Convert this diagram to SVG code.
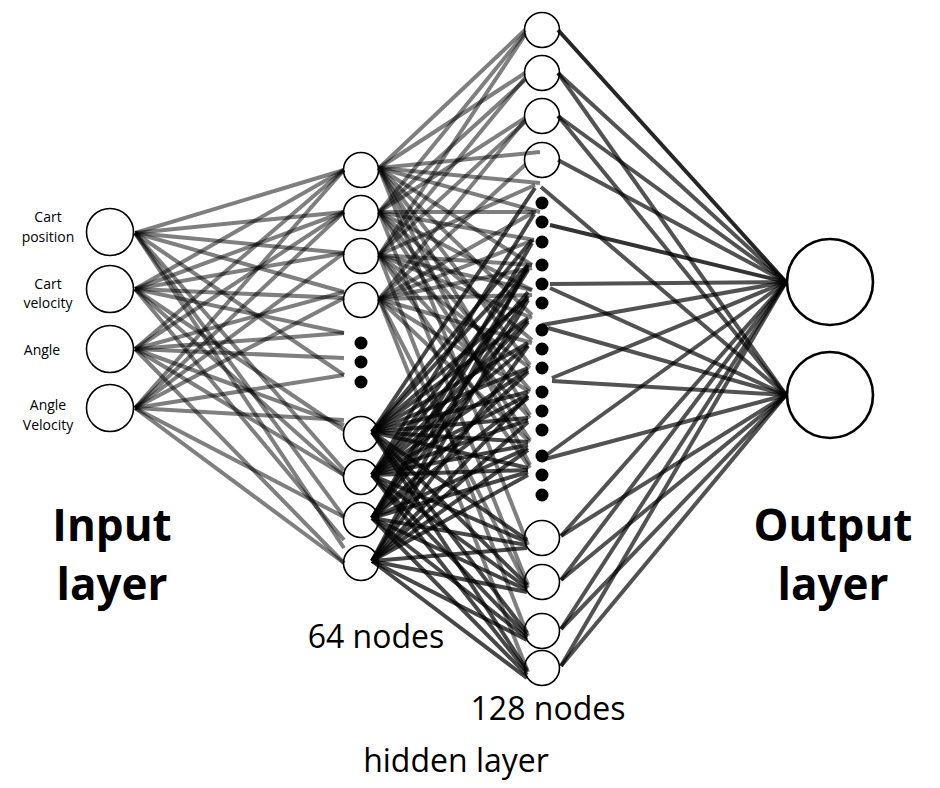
<svg xmlns="http://www.w3.org/2000/svg" width="940" height="788" viewBox="0 0 940 788">
  <style>
    .bg { fill: #ffffff; }
    .node { fill: #ffffff; stroke: #000000; stroke-width: 1.6; }
    .out { fill: #ffffff; stroke: #000000; stroke-width: 2.6; }
    .dot { fill: #000000; }
    .w-in { stroke: #000000; stroke-opacity: 0.5; stroke-width: 4; stroke-linecap: butt; }
    .w-hu { stroke: #000000; stroke-opacity: 0.5; stroke-width: 4; }
    .w-hl { stroke: #000000; stroke-opacity: 0.72; stroke-width: 4; }
    .w-out { stroke: #000000; stroke-opacity: 0.68; stroke-width: 4; }
    .small { font-family: "Open Sans", "Liberation Sans", sans-serif; font-size: 14px; fill: #000; text-anchor: middle; }
    .title { font-family: "Open Sans", "Liberation Sans", sans-serif; font-size: 44px; font-weight: 700; fill: #000; text-anchor: middle; }
    .count { font-family: "Open Sans", "Liberation Sans", sans-serif; font-size: 32px; fill: #000; text-anchor: middle; }
  </style>

  <rect class="bg" x="0" y="0" width="940" height="788"/>

  <!-- input layer -->
  <g id="input-cart-position">
    <circle class="node" cx="110" cy="232" r="23.5"/>
    <text class="small" x="48" y="222">Cart</text>
    <text class="small" x="48" y="242">position</text>
  </g>
  <g id="input-cart-velocity">
    <circle class="node" cx="110" cy="289" r="23.5"/>
    <text class="small" x="48" y="289">Cart</text>
    <text class="small" x="48" y="308">velocity</text>
  </g>
  <g id="input-angle">
    <circle class="node" cx="110" cy="349" r="23.5"/>
    <text class="small" x="42" y="355">Angle</text>
  </g>
  <g id="input-angle-velocity">
    <circle class="node" cx="110" cy="408" r="23.5"/>
    <text class="small" x="48" y="410">Angle</text>
    <text class="small" x="48" y="430">Velocity</text>
  </g>

  <!-- first hidden layer (64 nodes) -->
  <g id="h1-1"><circle class="node" cx="361" cy="170" r="17.5"/></g>
  <g id="h1-2"><circle class="node" cx="361" cy="213" r="17.5"/></g>
  <g id="h1-3"><circle class="node" cx="361" cy="256" r="17.5"/></g>
  <g id="h1-4"><circle class="node" cx="361" cy="300" r="17.5"/></g>
  <g id="h1-5"><circle class="node" cx="361" cy="434" r="17.5"/></g>
  <g id="h1-6"><circle class="node" cx="361" cy="477" r="17.5"/></g>
  <g id="h1-7"><circle class="node" cx="361" cy="520" r="17.5"/></g>
  <g id="h1-8"><circle class="node" cx="361" cy="563" r="17.5"/></g>

  <!-- second hidden layer (128 nodes) -->
  <g id="h2-1"><circle class="node" cx="542" cy="30" r="17.5"/></g>
  <g id="h2-2"><circle class="node" cx="542" cy="73" r="17.5"/></g>
  <g id="h2-3"><circle class="node" cx="542" cy="116" r="17.5"/></g>
  <g id="h2-4"><circle class="node" cx="542" cy="160" r="17.5"/></g>
  <g id="h2-5"><circle class="node" cx="542" cy="538" r="17.5"/></g>
  <g id="h2-6"><circle class="node" cx="542" cy="582" r="17.5"/></g>
  <g id="h2-7"><circle class="node" cx="542" cy="631" r="17.5"/></g>
  <g id="h2-8"><circle class="node" cx="542" cy="668" r="17.5"/></g>

  <!-- output layer -->
  <g id="output-1"><circle class="out" cx="830" cy="282" r="43"/></g>
  <g id="output-2"><circle class="out" cx="830" cy="395" r="43"/></g>

  <!-- weights -->
  <g id="connectors">
    <!-- input -> hidden 1 -->
    <g class="w-in">
      <line x1="135" y1="233" x2="344" y2="170"/>
      <line x1="135" y1="233" x2="344" y2="212"/>
      <line x1="135" y1="233" x2="344" y2="253"/>
      <line x1="135" y1="233" x2="344" y2="292"/>
      <line x1="135" y1="233" x2="344" y2="375"/>
      <line x1="135" y1="233" x2="344" y2="470"/>
      <line x1="135" y1="233" x2="344" y2="517"/>
      <line x1="135" y1="233" x2="344" y2="548"/>
      <line x1="135" y1="289" x2="344" y2="170"/>
      <line x1="135" y1="289" x2="344" y2="212"/>
      <line x1="135" y1="289" x2="344" y2="253"/>
      <line x1="135" y1="289" x2="344" y2="298"/>
      <line x1="135" y1="289" x2="344" y2="333"/>
      <line x1="135" y1="289" x2="344" y2="430"/>
      <line x1="135" y1="289" x2="344" y2="475"/>
      <line x1="135" y1="289" x2="344" y2="540"/>
      <line x1="135" y1="349" x2="344" y2="170"/>
      <line x1="135" y1="349" x2="344" y2="212"/>
      <line x1="135" y1="349" x2="344" y2="292"/>
      <line x1="135" y1="349" x2="344" y2="333"/>
      <line x1="135" y1="349" x2="344" y2="358"/>
      <line x1="135" y1="349" x2="344" y2="425"/>
      <line x1="135" y1="349" x2="344" y2="475"/>
      <line x1="135" y1="349" x2="344" y2="563"/>
      <line x1="135" y1="408" x2="344" y2="170"/>
      <line x1="135" y1="408" x2="344" y2="212"/>
      <line x1="135" y1="408" x2="344" y2="253"/>
      <line x1="135" y1="408" x2="344" y2="298"/>
      <line x1="135" y1="408" x2="344" y2="375"/>
      <line x1="135" y1="408" x2="344" y2="420"/>
      <line x1="135" y1="408" x2="344" y2="517"/>
      <line x1="135" y1="408" x2="344" y2="563"/>
    </g>

    <!-- hidden 1 (upper) -> hidden 2 -->
    <g class="w-hu">
      <line x1="379" y1="168" x2="525" y2="30"/>
      <line x1="379" y1="168" x2="525" y2="73"/>
      <line x1="379" y1="168" x2="540" y2="152"/>
      <line x1="379" y1="168" x2="540" y2="183"/>
      <line x1="379" y1="168" x2="540" y2="212"/>
      <line x1="379" y1="168" x2="532" y2="265"/>
      <line x1="379" y1="168" x2="532" y2="315"/>
      <line x1="379" y1="168" x2="530" y2="365"/>
      <line x1="379" y1="168" x2="530" y2="415"/>
      <line x1="379" y1="168" x2="530" y2="465"/>
      <line x1="379" y1="168" x2="528" y2="545"/>
      <line x1="379" y1="212" x2="525" y2="33"/>
      <line x1="379" y1="212" x2="525" y2="80"/>
      <line x1="379" y1="212" x2="525" y2="118"/>
      <line x1="379" y1="212" x2="536" y2="212"/>
      <line x1="379" y1="212" x2="534" y2="240"/>
      <line x1="379" y1="212" x2="532" y2="290"/>
      <line x1="379" y1="212" x2="532" y2="340"/>
      <line x1="379" y1="212" x2="530" y2="390"/>
      <line x1="379" y1="212" x2="530" y2="440"/>
      <line x1="379" y1="212" x2="528" y2="585"/>
      <line x1="379" y1="255" x2="525" y2="35"/>
      <line x1="379" y1="255" x2="525" y2="78"/>
      <line x1="379" y1="255" x2="525" y2="122"/>
      <line x1="379" y1="255" x2="535" y2="185"/>
      <line x1="379" y1="255" x2="532" y2="265"/>
      <line x1="379" y1="255" x2="532" y2="290"/>
      <line x1="379" y1="255" x2="532" y2="318"/>
      <line x1="379" y1="255" x2="530" y2="368"/>
      <line x1="379" y1="255" x2="530" y2="418"/>
      <line x1="379" y1="255" x2="530" y2="468"/>
      <line x1="379" y1="255" x2="528" y2="636"/>
      <line x1="379" y1="299" x2="525" y2="120"/>
      <line x1="379" y1="299" x2="525" y2="165"/>
      <line x1="379" y1="299" x2="534" y2="212"/>
      <line x1="379" y1="299" x2="534" y2="240"/>
      <line x1="379" y1="299" x2="532" y2="268"/>
      <line x1="379" y1="299" x2="532" y2="295"/>
      <line x1="379" y1="299" x2="532" y2="343"/>
      <line x1="379" y1="299" x2="530" y2="392"/>
      <line x1="379" y1="299" x2="530" y2="442"/>
      <line x1="379" y1="299" x2="528" y2="588"/>
      <line x1="379" y1="299" x2="528" y2="672"/>
    </g>

    <!-- hidden 1 (lower) -> hidden 2 -->
    <g class="w-hl">
      <line x1="372" y1="432" x2="535" y2="188"/>
      <line x1="372" y1="432" x2="532" y2="240"/>
      <line x1="372" y1="432" x2="528" y2="265"/>
      <line x1="372" y1="432" x2="528" y2="298"/>
      <line x1="372" y1="432" x2="528" y2="318"/>
      <line x1="372" y1="432" x2="528" y2="343"/>
      <line x1="372" y1="432" x2="528" y2="368"/>
      <line x1="372" y1="432" x2="528" y2="392"/>
      <line x1="372" y1="432" x2="528" y2="418"/>
      <line x1="372" y1="432" x2="528" y2="442"/>
      <line x1="372" y1="432" x2="528" y2="468"/>
      <line x1="372" y1="432" x2="527" y2="540"/>
      <line x1="372" y1="432" x2="527" y2="585"/>
      <line x1="372" y1="432" x2="527" y2="633"/>
      <line x1="372" y1="432" x2="527" y2="670"/>
      <line x1="372" y1="475" x2="534" y2="214"/>
      <line x1="372" y1="475" x2="528" y2="268"/>
      <line x1="372" y1="475" x2="528" y2="292"/>
      <line x1="372" y1="475" x2="528" y2="320"/>
      <line x1="372" y1="475" x2="528" y2="345"/>
      <line x1="372" y1="475" x2="528" y2="370"/>
      <line x1="372" y1="475" x2="528" y2="395"/>
      <line x1="372" y1="475" x2="528" y2="420"/>
      <line x1="372" y1="475" x2="528" y2="445"/>
      <line x1="372" y1="475" x2="528" y2="470"/>
      <line x1="372" y1="475" x2="527" y2="542"/>
      <line x1="372" y1="475" x2="527" y2="588"/>
      <line x1="372" y1="475" x2="527" y2="636"/>
      <line x1="372" y1="475" x2="527" y2="672"/>
      <line x1="372" y1="518" x2="532" y2="243"/>
      <line x1="372" y1="518" x2="528" y2="270"/>
      <line x1="372" y1="518" x2="528" y2="296"/>
      <line x1="372" y1="518" x2="528" y2="322"/>
      <line x1="372" y1="518" x2="528" y2="372"/>
      <line x1="372" y1="518" x2="528" y2="398"/>
      <line x1="372" y1="518" x2="528" y2="448"/>
      <line x1="372" y1="518" x2="528" y2="472"/>
      <line x1="372" y1="518" x2="527" y2="545"/>
      <line x1="372" y1="518" x2="527" y2="590"/>
      <line x1="372" y1="518" x2="527" y2="638"/>
      <line x1="372" y1="518" x2="527" y2="675"/>
      <line x1="372" y1="561" x2="528" y2="265"/>
      <line x1="372" y1="561" x2="528" y2="300"/>
      <line x1="372" y1="561" x2="528" y2="346"/>
      <line x1="372" y1="561" x2="528" y2="396"/>
      <line x1="372" y1="561" x2="528" y2="422"/>
      <line x1="372" y1="561" x2="528" y2="450"/>
      <line x1="372" y1="561" x2="528" y2="475"/>
      <line x1="372" y1="561" x2="527" y2="548"/>
      <line x1="372" y1="561" x2="527" y2="592"/>
      <line x1="372" y1="561" x2="527" y2="640"/>
      <line x1="372" y1="561" x2="527" y2="678"/>
    </g>

    <!-- hidden 2 -> output -->
    <g class="w-out">
      <line x1="558" y1="30" x2="786" y2="282" stroke-opacity="0.85"/>
      <line x1="558" y1="73" x2="786" y2="282"/>
      <line x1="558" y1="73" x2="786" y2="395"/>
      <line x1="558" y1="116" x2="786" y2="282"/>
      <line x1="558" y1="116" x2="786" y2="395"/>
      <line x1="558" y1="160" x2="786" y2="282"/>
      <line x1="541" y1="187" x2="786" y2="395"/>
      <line x1="550" y1="225" x2="786" y2="282" stroke-opacity="0.8"/>
      <line x1="550" y1="284" x2="786" y2="282"/>
      <line x1="550" y1="288" x2="786" y2="395"/>
      <line x1="542" y1="325" x2="786" y2="282"/>
      <line x1="548" y1="328" x2="786" y2="395"/>
      <line x1="552" y1="378" x2="786" y2="282"/>
      <line x1="552" y1="381" x2="786" y2="395"/>
      <line x1="545" y1="456" x2="786" y2="282"/>
      <line x1="545" y1="459" x2="786" y2="395"/>
      <line x1="561" y1="536" x2="786" y2="282"/>
      <line x1="561" y1="536" x2="786" y2="395"/>
      <line x1="561" y1="580" x2="786" y2="282"/>
      <line x1="561" y1="580" x2="786" y2="395"/>
      <line x1="561" y1="629" x2="786" y2="282"/>
      <line x1="561" y1="629" x2="786" y2="395"/>
      <line x1="561" y1="666" x2="786" y2="282"/>
      <line x1="561" y1="666" x2="786" y2="395"/>
    </g>
  </g>

  <!-- ellipsis dots -->
  <g id="h1-ellipsis" class="dot">
    <circle cx="361" cy="343" r="6.5"/>
    <circle cx="361" cy="362" r="6.5"/>
    <circle cx="361" cy="382" r="6.5"/>
  </g>
  <g id="h2-ellipsis" class="dot">
    <circle cx="542" cy="203" r="6.5"/>
    <circle cx="542" cy="222" r="6.5"/>
    <circle cx="542" cy="242" r="6.5"/>
    <circle cx="542" cy="265" r="6.5"/>
    <circle cx="542" cy="284" r="6.5"/>
    <circle cx="542" cy="303" r="6.5"/>
    <circle cx="542" cy="330" r="6.5"/>
    <circle cx="542" cy="349" r="6.5"/>
    <circle cx="542" cy="368" r="6.5"/>
    <circle cx="542" cy="392" r="6.5"/>
    <circle cx="542" cy="411" r="6.5"/>
    <circle cx="542" cy="430" r="6.5"/>
    <circle cx="542" cy="456" r="6.5"/>
    <circle cx="542" cy="475" r="6.5"/>
    <circle cx="542" cy="495" r="6.5"/>
  </g>

  <!-- layer captions -->
  <g id="labels">
    <text class="title" x="112" y="541">Input</text>
    <text class="title" x="112" y="600">layer</text>
    <text class="title" x="833" y="541">Output</text>
    <text class="title" x="833" y="600">layer</text>
    <text class="count" x="376" y="648">64 nodes</text>
    <text class="count" x="548" y="720">128 nodes</text>
    <text class="count" x="456" y="772">hidden layer</text>
  </g>
</svg>
